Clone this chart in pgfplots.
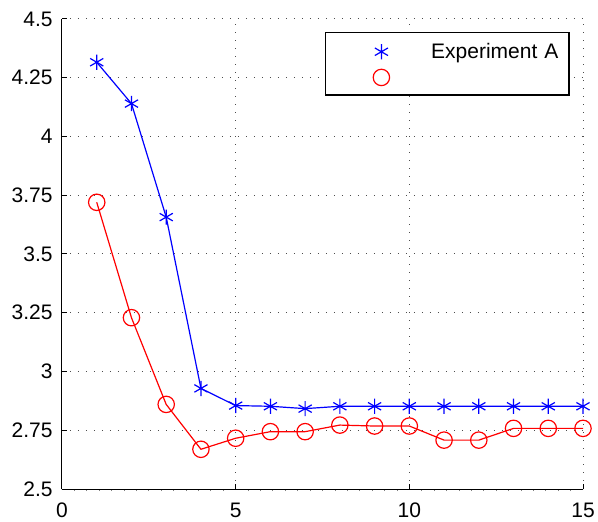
\documentclass[border=0pt]{standalone}
\usepackage{pgfplots}
\pgfplotsset{compat=1.18}
\usepackage{fontspec}
\setmainfont{Liberation Sans}
\begin{document}
\fontsize{10.5bp}{12bp}\selectfont
\begin{tikzpicture}
\begin{axis}[
  at={(0,0)}, anchor=south west,
  scale only axis,
  width=260.5bp, height=235bp,
  xmin=0, xmax=15, ymin=2.5, ymax=4.5,
  xtick={0,5,10,15},
  ytick={2.5,2.75,3,3.25,3.5,3.75,4,4.25,4.5},
  yticklabels={2.5,2.75,3,3.25,3.5,3.75,4,4.25,4.5},
  minor x tick num=13,
  axis x line=bottom, axis y line=left,
  axis line style={-, black, line width=0.5bp},
  tick align=inside,
  major tick length=2.5bp,
  minor tick length=1bp,
  minor x tick style={yshift=-1bp, line width=0.4bp},
  major tick style={black, line width=0.5bp},
  xmajorgrids, ymajorgrids,
  major grid style={black!70, line width=0.5bp, dash pattern=on 0.5bp off 3.5bp},
  /pgf/number format/assume math mode=true,
  tick label style={font=\fontsize{10.5bp}{12bp}\selectfont},
  xticklabel style={yshift=-3.3bp},
  yticklabel style={xshift=-1bp},
  clip=false,
  legend style={
    at={(rel axis cs:1,1)}, anchor=north east, xshift=-6.5bp, yshift=-6.35bp,
    draw=black, line width=0.8bp, inner xsep=0pt, inner ysep=4.47bp,
    row sep=3.35bp,
    nodes={inner sep=0pt, text height=8.5bp, text depth=1bp, text width=69bp, align=left, font=\fontsize{10.5bp}{12bp}\selectfont},
  },
  legend cell align=left,
  legend image code/.code={\path (0bp,0bp) (52bp,0bp); \draw[#1] plot coordinates {(27.5bp,-0.4bp)};},
]
\addplot[blue, line width=0.6bp, mark=asterisk, mark size=3.8bp, mark options={line width=0.6bp}, forget plot] coordinates {
(1,4.316) (2,4.14) (3,3.657) (4,2.928) (5,2.855) (6,2.852) (7,2.842) (8,2.852)
(9,2.852) (10,2.852) (11,2.852) (12,2.852) (13,2.852) (14,2.852) (15,2.852)};
\addplot[red, line width=0.6bp, mark=o, mark size=4.1bp, mark options={line width=0.6bp}, forget plot] coordinates {
(1,3.72) (2,3.229) (3,2.86) (4,2.669) (5,2.716) (6,2.744) (7,2.744) (8,2.772)
(9,2.768) (10,2.768) (11,2.708) (12,2.708) (13,2.758) (14,2.758) (15,2.758)};
\addlegendimage{only marks, blue, mark=asterisk, mark size=3.8bp, mark options={line width=0.6bp}}
\addlegendentry{Experiment A}
\addlegendimage{only marks, red, mark=o, mark size=4.1bp, mark options={line width=0.6bp}}
\addlegendentry{}
\end{axis}
\pgfresetboundingbox
\path (-31bp,-16.5bp) rectangle (268bp,244.5bp);
\end{tikzpicture}
\end{document}
